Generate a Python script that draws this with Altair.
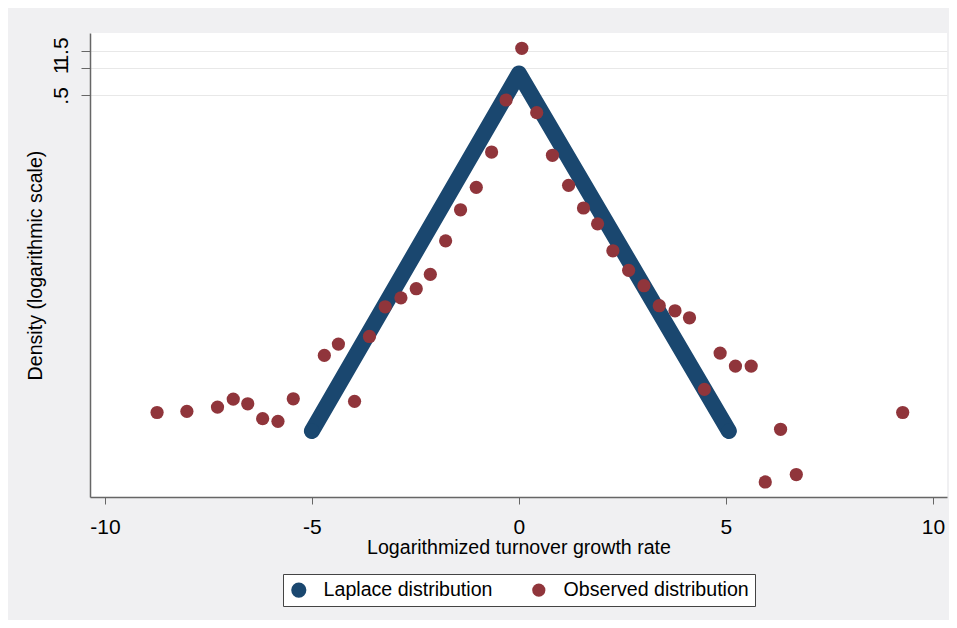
import altair as alt
import pandas as pd

# Observed distribution
obs_x = [-8.74, -8.02, -7.28, -6.90, -6.55, -6.19, -5.82, -5.45, -4.70, -4.36,
         -3.97, -3.61, -3.23, -2.85, -2.48, -2.14, -1.77, -1.41, -1.03, -0.66,
         -0.31, 0.07, 0.43, 0.81, 1.20, 1.56, 1.90, 2.27, 2.65, 3.02,
         3.39, 3.77, 4.12, 4.48, 4.86, 5.23, 5.61, 5.95, 6.32, 6.70, 9.27]
obs_y = [1.81e-4, 1.86e-4, 2.07e-4, 2.53e-4, 2.25e-4, 1.55e-4, 1.45e-4, 2.55e-4, 7.54e-4, 1.0e-3,
         2.39e-4, 1.21e-3, 2.54e-3, 3.18e-3, 3.99e-3, 5.71e-3, 1.32e-2, 2.87e-2, 5.03e-2, 0.1215,
         0.446, 1.624, 0.325, 0.112, 0.0529, 0.0300, 0.0202, 0.0103, 6.32e-3, 4.30e-3,
         2.61e-3, 2.30e-3, 1.93e-3, 3.22e-4, 7.99e-4, 5.77e-4, 5.77e-4, 3.19e-5, 1.19e-4, 3.84e-5, 1.81e-4]

# Laplace distribution (vertices)
lap_x = [-5.0, 0.0, 5.07]
lap_y = [1.14e-4, 0.865, 1.14e-4]

series = ["Laplace distribution", "Observed distribution"]
x_ticks = [-10, -5, 0, 5, 10]
y_ticks = [0.5, 1, 1.5]

NAVY = "#1a476f"
MAROON = "#90353b"
FONT = "Liberation Sans"

lap_df = pd.DataFrame({"x": lap_x, "y": lap_y, "series": series[0]})
obs_df = pd.DataFrame({"x": obs_x, "y": obs_y, "series": series[1]})
pts_df = pd.concat([lap_df.iloc[[0, 2]], obs_df], ignore_index=True)

xs = alt.Scale(domain=[-10.36, 10.34], nice=False, zero=False)
ys = alt.Scale(type="log", domain=[2.19e-5, 2.38], nice=False)


def x_enc():
    return alt.X("x:Q", scale=xs, axis=alt.Axis(
        values=x_ticks, title="Logarithmized turnover growth rate", grid=False,
        labelExpr="datum.value < 0 ? '-' + format(-datum.value, 'd') : format(datum.value, 'd')",
        labelFontSize=21, labelFont=FONT, labelColor="black", labelFlush=False,
        tickSize=7, tickColor="#666", domainColor="#666", domainWidth=1.5,
        labelPadding=12, titleFont=FONT, titleFontSize=19.6, titleFontWeight="normal",
        titleColor="black", titleY=50, titleBaseline="middle"))


def y_enc():
    return alt.Y("y:Q", scale=ys, axis=alt.Axis(
        values=y_ticks, title="Density (logarithmic scale)",
        labelExpr="datum.value == 0.5 ? '.5' : format(datum.value, '~g')",
        labelAngle=270, labelAlign="center", labelBaseline="bottom", labelPadding=10,
        labelOverlap=False, labelFontSize=21, labelFont=FONT, labelColor="black",
        tickSize=9, tickColor="#666", domainColor="#666", domainWidth=1.5,
        grid=True, gridColor="#e8e8e8", gridWidth=1,
        titleFont=FONT, titleFontSize=19.6, titleFontWeight="normal", titleColor="black",
        titleAngle=270, titleX=-55, titleY=232, titleBaseline="middle"))


line = alt.Chart(lap_df).mark_line(
    color=NAVY, strokeWidth=16, strokeCap="round", strokeJoin="round"
).encode(x=x_enc(), y=y_enc())

pts = alt.Chart(pts_df).mark_circle(opacity=1).encode(
    x=x_enc(), y=y_enc(),
    color=alt.Color("series:N", scale=alt.Scale(domain=series, range=[NAVY, MAROON]),
                    legend=alt.Legend(
                        title=None, orient="none", legendX=193, legendY=541,
                        direction="horizontal", fillColor="white", strokeColor="#444",
                        padding=6, symbolType="circle", symbolSize=140, symbolStrokeWidth=0,
                        labelFontSize=19.6, labelFont=FONT, labelColor="black",
                        columnPadding=36, labelOffset=15, labelLimit=400)),
    size=alt.Size("series:N", scale=alt.Scale(domain=series, range=[230, 175]), legend=None),
)

chart = alt.layer(line, pts).properties(
    width=857, height=464,
    padding={"left": 82, "top": 25, "right": 2, "bottom": 123},
    autosize=alt.AutoSizeParams(type="none"),
    background="#f0f0f2",
).configure_view(fill="white", strokeWidth=0)

chart.save("out.html", embed_options={"renderer": "svg", "actions": False})
